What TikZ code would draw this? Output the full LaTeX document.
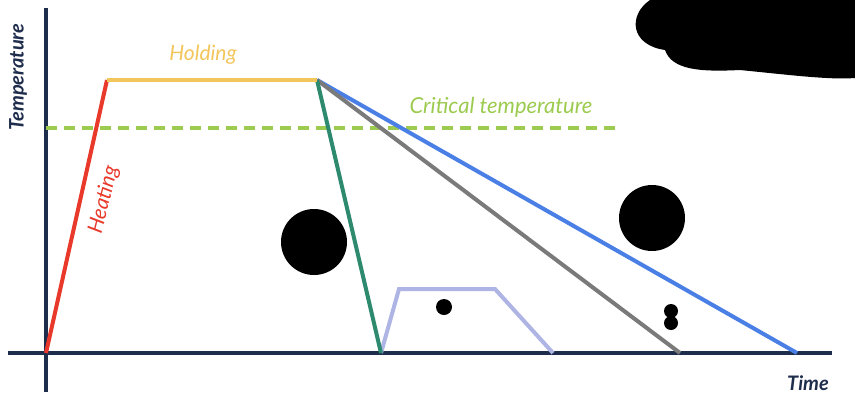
\documentclass[tikz,border=0pt]{standalone}
\usepackage{fontspec}
\setmainfont{Lato}
\definecolor{navy}{HTML}{1F2D4D}
\definecolor{hred}{HTML}{E8392B}
\definecolor{hold}{HTML}{F2C65A}
\definecolor{crit}{HTML}{9CCB4F}
\definecolor{qgreen}{HTML}{2E8A6E}
\definecolor{qgray}{HTML}{7A7A7A}
\definecolor{qblue}{HTML}{4A7FE6}
\definecolor{qpurp}{HTML}{AEB4E4}
\begin{document}
\begin{tikzpicture}[x=1pt,y=-1pt,
  axis/.style={navy,line width=4pt},
  curve/.style={line width=4pt},
  lab/.style={font=\itshape\fontsize{21}{24}\selectfont,inner sep=0pt},
  blob/.style={fill=black}]
\useasboundingbox[fill=white] (0,0) rectangle (855,405);
\coordinate (o) at (46,353);
\coordinate (ytop) at (46,8);
\coordinate (ybot) at (46,392);
\coordinate (xl) at (8,353);
\coordinate (xr) at (832,353);
\coordinate (h1) at (107,80);
\coordinate (h2) at (317,80);
\coordinate (c1) at (46,128);
\coordinate (c2) at (622,128);
\coordinate (g) at (381,353);
\coordinate (gr) at (680,353);
\coordinate (bl) at (797,353);
\coordinate (p1) at (399,289);
\coordinate (p2) at (495,289);
\coordinate (p3) at (553,353);
\draw[axis] (ytop) -- (ybot);
\draw[axis] (xl) -- (xr);
\draw[curve,crit,dashed,dash pattern=on 11pt off 7pt] (c1) -- (c2);
\draw[curve,qpurp] (g) -- (p1) -- (p2) -- (p3);
\draw[curve,qblue] (h2) -- (bl);
\draw[curve,qgray] (h2) -- (gr);
\draw[curve,qgreen] (h2) -- (g);
\draw[curve,hred] (o) -- (h1);
\draw[curve,hold] (h1) -- (h2);
\node[lab,text=hold] (tH) at (203,55) {Holding};
\node[lab,text=crit,font=\itshape\fontsize{22}{24}\selectfont] (tC) at (501,107) {Critical temperature};
\node[lab,text=hred,rotate=76] (tHe) at (104,200) {Heating};
\node[inner sep=0pt,font=\bfseries\itshape\fontsize{20}{22}\selectfont,text=navy,rotate=90] (tT) at (18,77) {Temperature};
\node[inner sep=0pt,font=\bfseries\itshape\fontsize{20}{22}\selectfont,text=navy] (tTi) at (808,383) {Time};
\fill[blob] (314,242) circle (33);
\fill[blob] (652,218) circle (33);
\fill[blob] (444,307) circle (8);
\fill[blob] (671,311) circle (7);
\fill[blob] (671,323) circle (7);
\fill[blob] (650,0) .. controls (628,15) and (630,45) .. (665,50) .. controls (672,70) and (700,72) .. (740,70) .. controls (790,75) and (830,80) .. (855,78) -- (855,0) -- cycle;
\end{tikzpicture}
\end{document}
